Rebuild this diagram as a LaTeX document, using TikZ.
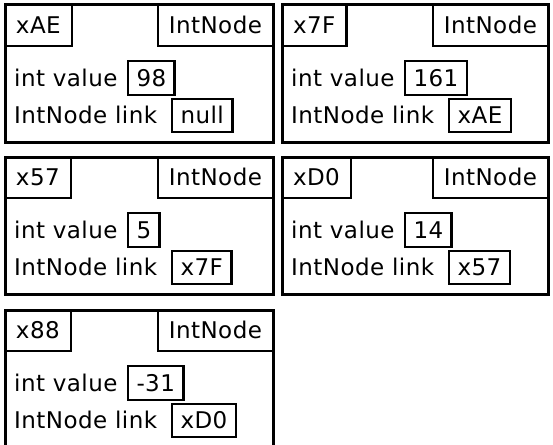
\documentclass[tikz,border=0pt]{standalone}
\usepackage{fontspec}
\setmainfont{DejaVu Sans}[LetterSpace=2]
% one IntNode object: [name](left,top:width)(address:value:link)
\def\objnode[#1](#2,#3:#4)(#5:#6:#7){%
  \draw[frame] (#2,#3) rectangle (#2+#4,#3+137);
  \node[tag, anchor=north west] (#1addr) at (#2,#3) {#5};
  \node[tag, anchor=north east] (#1type) at (#2+#4,#3) {IntNode};
  \node[field, anchor=base west] (#1vtxt) at (#2+9,#3+81) {int value};
  \node[slot, anchor=north west] (#1val) at (#2+123,#3+56) {#6};
  \node[field, anchor=base west] (#1ltxt) at (#2+9,#3+118) {IntNode link};
  \node[slot, anchor=north west, minimum height=33pt] (#1lnk) at (#2+167,#3+94) {#7};
}

\begin{document}
\begin{tikzpicture}[x=1pt, y=-1pt,
    font=\fontsize{23}{27}\selectfont,
    frame/.style={line width=3pt},
    tag/.style={draw, line width=2.5pt, outer sep=0pt, inner xsep=11pt,
      minimum height=41pt, text height=16.5pt, text depth=0pt},
    slot/.style={draw, line width=2.5pt, outer sep=0pt, inner xsep=8.5pt,
      minimum height=34pt, text height=16.5pt, text depth=0pt},
    field/.style={inner sep=0pt}]
			%%%%% START %%%%%
			
			\fill[white] (0,0) rectangle (553,444);
			\useasboundingbox (0,0) rectangle (553,444);
			
			\objnode[xAE](5,5:268)(xAE:98:null)
			\objnode[xSF](282,5:266)(x7F:161:xAE)
			
			\objnode[xFS](5,157:268)(x57:5:x7F)
			\objnode[xDO](282,157:266)(xD0:14:x57)
			
			\objnode[xEE](5,310:268)(x88:-31:xD0)
			
			%%%%% END %%%%%
		\end{tikzpicture}
\end{document}
